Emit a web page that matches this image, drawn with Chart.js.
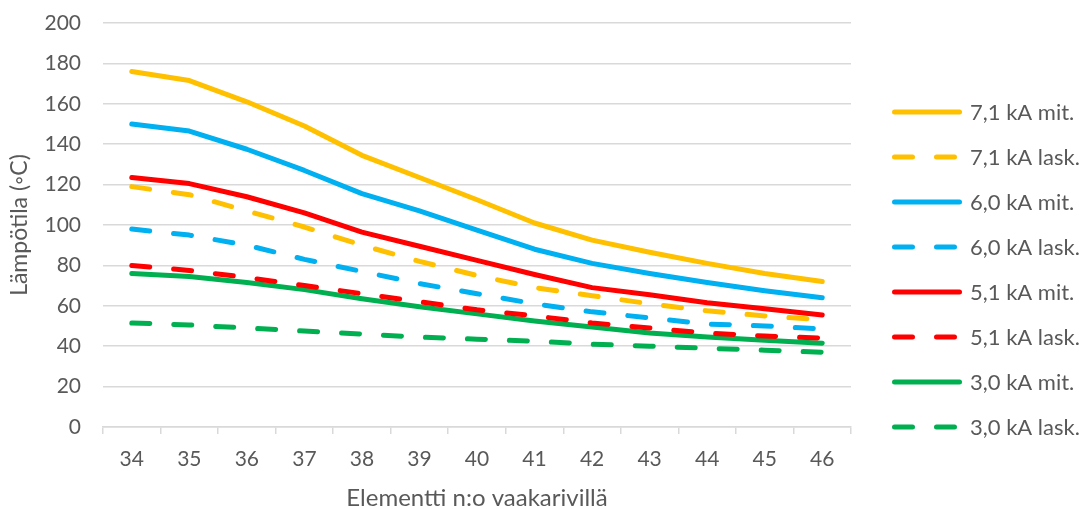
<!DOCTYPE html>
<html>
<head>
<meta charset="utf-8">
<script src="https://cdn.jsdelivr.net/npm/chart.js@4.4.1/dist/chart.umd.min.js"></script>
<style>
  html, body { margin: 0; padding: 0; background: #fff; }
  #wrap { width: 1080px; height: 509px; }
</style>
</head>
<body>
<div id="wrap"><canvas id="chart" width="1080" height="509"></canvas></div>
<script>
const ELEMENTS = ['34', '35', '36', '37', '38', '39', '40', '41', '42', '43', '44', '45', '46'];

const MEAS_71 = [176, 171.5, 161, 149, 134.5, 123.5, 112.5, 101, 92.5, 86.5, 81, 76, 72];
const CALC_71 = [119, 115, 107, 99, 90, 82, 75, 69, 65, 61, 57.5, 55, 53];
const MEAS_60 = [150, 146.5, 137.5, 127, 115.5, 107, 97.5, 88, 81, 76, 71.5, 67.5, 64];
const CALC_60 = [98, 95, 90, 83, 77, 71, 66, 61, 57, 54, 51, 50, 48.5];
const MEAS_51 = [123.5, 120.5, 114, 106, 96.5, 89.5, 82.5, 75.5, 69, 65.5, 61.5, 58.5, 55.5];
const CALC_51 = [80, 77.5, 74, 70, 66, 62, 58, 55, 51.5, 49, 46.5, 45, 44];
const MEAS_30 = [76, 74.5, 71.5, 68, 63.5, 59.5, 56, 52.5, 49.5, 46.5, 44.5, 43, 41.5];
const CALC_30 = [51.5, 50.5, 49, 47.5, 46, 44.5, 43.5, 42.5, 41, 40, 39, 38, 37];

const Y_TICKS = [0, 20, 40, 60, 80, 100, 120, 140, 160, 180, 200];

const ORANGE = '#FFC000', BLUE = '#00B0F0', RED = '#FF0000', GREEN = '#00B050';
const DASH = [18, 24];
const TEXT = '#595959';
const GRID = '#d9d9d9';
const FONT = 'Lato, "Open Sans", sans-serif';

function series(label, data, color, dashed) {
  return {
    label,
    data,
    borderColor: color,
    backgroundColor: color,
    borderWidth: 5,
    borderDash: dashed ? DASH : [],
    borderCapStyle: 'round',
    borderJoinStyle: 'round',
    pointRadius: 0,
    pointHoverRadius: 0,
    tension: 0,
    fill: false
  };
}

// legend drawn by hand so the dashed samples look like Excel's
const lineLegend = {
  id: 'lineLegend',
  afterDraw(chart, args, opts) {
    const { ctx, chartArea } = chart;
    const x0 = chartArea.right + opts.gap;
    chart.data.datasets.forEach((ds, i) => {
      const y = opts.top + i * opts.spacing;
      ctx.save();
      ctx.strokeStyle = ds.borderColor;
      ctx.lineWidth = ds.borderWidth;
      ctx.lineCap = 'round';
      ctx.setLineDash(ds.borderDash);
      ctx.beginPath();
      ctx.moveTo(x0 + 2.5, y);
      ctx.lineTo(x0 + opts.sample - 2.5, y);
      ctx.stroke();
      ctx.setLineDash([]);
      ctx.fillStyle = TEXT;
      ctx.font = `${opts.fontSize}px ${FONT}`;
      ctx.textBaseline = 'middle';
      ctx.fillText(ds.label, x0 + opts.sample + 8, y + 1);
      ctx.restore();
    });
  }
};

new Chart(document.getElementById('chart'), {
  type: 'line',
  data: {
    labels: ELEMENTS,
    datasets: [
      series('7,1 kA mit.', MEAS_71, ORANGE, false),
      series('7,1 kA lask.', CALC_71, ORANGE, true),
      series('6,0 kA mit.', MEAS_60, BLUE, false),
      series('6,0 kA lask.', CALC_60, BLUE, true),
      series('5,1 kA mit.', MEAS_51, RED, false),
      series('5,1 kA lask.', CALC_51, RED, true),
      series('3,0 kA mit.', MEAS_30, GREEN, false),
      series('3,0 kA lask.', CALC_30, GREEN, true)
    ]
  },
  plugins: [lineLegend],
  options: {
    responsive: false,
    animation: false,
    layout: { padding: { top: 23, left: 0, right: 229, bottom: 0 } },
    plugins: {
      tooltip: { enabled: false },
      legend: { display: false },
      lineLegend: { gap: 41, sample: 70, top: 112, spacing: 45, fontSize: 22 }
    },
    scales: {
      x: {
        offset: true,
        afterFit: axis => { axis.height = 82; },
        border: { display: true, color: GRID, width: 1.5 },
        grid: { offset: true, drawOnChartArea: false, drawTicks: true, tickLength: 7, color: GRID, lineWidth: 1.5 },
        ticks: { color: TEXT, font: { family: FONT, size: 21 }, padding: 13, maxRotation: 0 },
        title: { display: true, text: 'Elementti n:o vaakarivillä', color: TEXT, font: { family: FONT, size: 24 }, padding: { top: 0, bottom: -4 } }
      },
      y: {
        min: 0,
        max: 200,
        afterBuildTicks: axis => { axis.ticks = Y_TICKS.map(v => ({ value: v })); },
        afterFit: axis => { axis.width = 103; axis.paddingTop = 0; axis.paddingBottom = 0; },
        border: { display: false },
        grid: { color: GRID, lineWidth: 1.5, drawTicks: false },
        ticks: { color: TEXT, font: { family: FONT, size: 21 }, padding: 22 },
        title: { display: true, text: 'Lämpötila (◦C)', color: TEXT, font: { family: FONT, size: 23 }, padding: { top: 6, bottom: 0 } }
      }
    }
  }
});
</script>
</body>
</html>
